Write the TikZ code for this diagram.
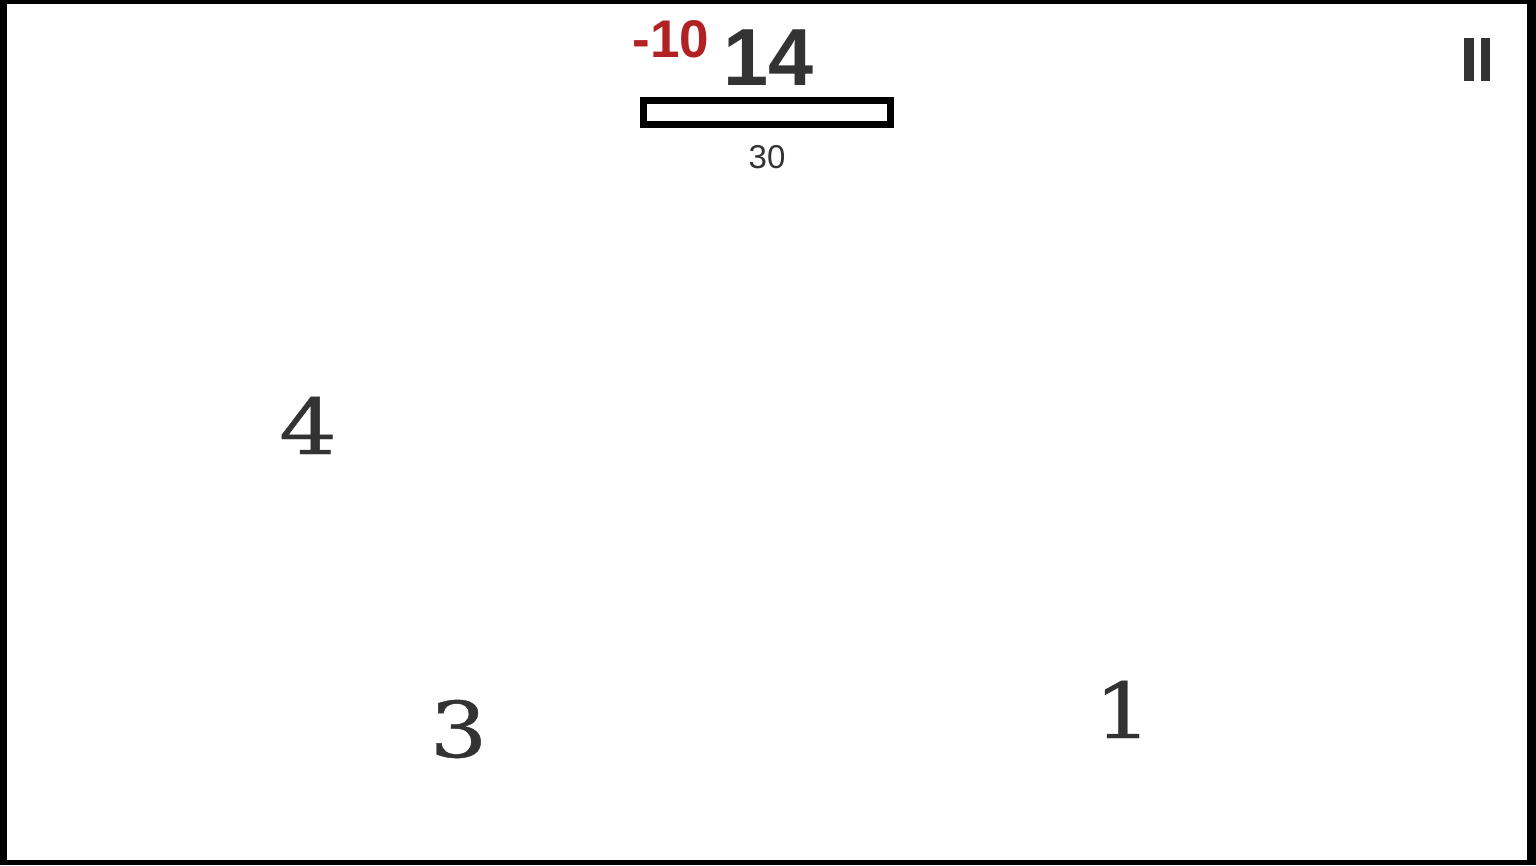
\documentclass[tikz,border=0pt]{standalone}
\usepackage{fontspec}
\setmainfont{Liberation Sans}
\newfontfamily\digitserif[FakeStretch=1.18,FakeBold=0.6]{DejaVu Serif}
\definecolor{ink}{HTML}{333333}
\definecolor{penalty}{HTML}{B22222}
\tikzset{
  bignum/.style={inner sep=0pt, anchor=base, text=ink, font=\digitserif\fontsize{77}{77}\selectfont},
  label/.style={inner sep=0pt, anchor=base},
  pausebar/.style={fill=ink, draw=none}
}
\begin{document}
\begin{tikzpicture}[x=1pt,y=-1pt]
\useasboundingbox (0,0) rectangle (1536,865);
\fill[black] (0,0) rectangle (1536,865);
\fill[white] (7,4) rectangle (1527,860);
% score
\node[label, text=ink, font=\bfseries\fontsize{81}{81}\selectfont] (score) at (768.5,85) {14};
\node[label, text=penalty, font=\bfseries\fontsize{53}{53}\selectfont] (penalty) at (671,57) {-10};
% bar
\draw[line width=7pt] (643.5,100.5) rectangle (890.5,124.5);
\node[label, text=ink, font=\fontsize{33}{33}\selectfont] (timer) at (767,168) {30};
% pause icon
\fill[pausebar] (1464,38) rectangle (1474,81);
\fill[pausebar] (1481,38) rectangle (1490,81);
% floating numbers
\node[bignum] (four) at (308,454) {4};
\node[bignum] (three) at (458.5,757) {3};
\node[bignum] (one) at (1123,738) {1};
\end{tikzpicture}
\end{document}
